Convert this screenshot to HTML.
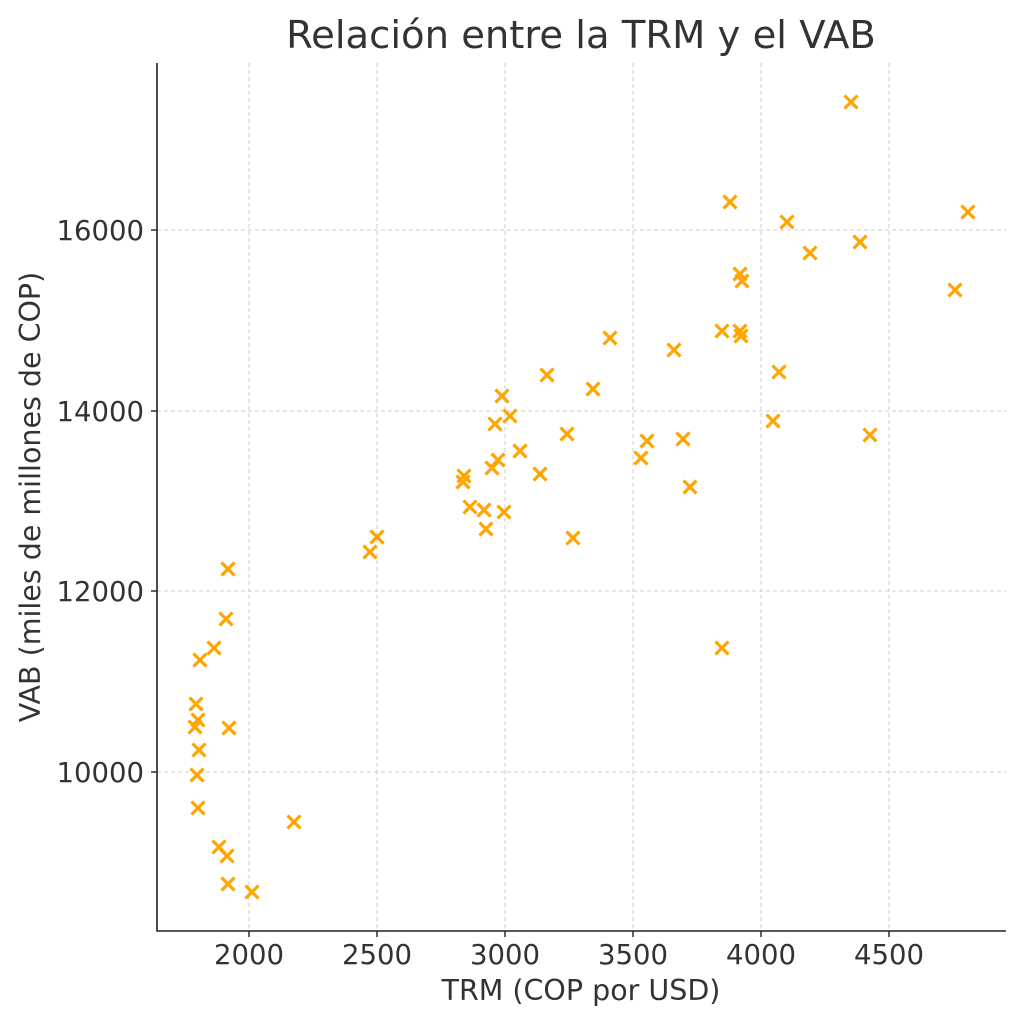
<!DOCTYPE html>
<html><head><meta charset="utf-8"><style>body{margin:0;background:#fff}svg{display:block}</style></head><body>
<svg width="1024" height="1024" xmlns="http://www.w3.org/2000/svg" font-family="DejaVu Sans, Liberation Sans, sans-serif">
<rect width="1024" height="1024" fill="#fff"/>
<defs><path id="m" d="M-6.5 -6.5L6.5 6.5M-6.5 6.5L6.5 -6.5" stroke="#FFA500" stroke-width="3.2" fill="none"/></defs>
<g stroke="#cccccc" stroke-dasharray="4,3" stroke-width="1">
<line x1="249" y1="63" x2="249" y2="931"/><line x1="377" y1="63" x2="377" y2="931"/><line x1="505" y1="63" x2="505" y2="931"/><line x1="633" y1="63" x2="633" y2="931"/><line x1="761" y1="63" x2="761" y2="931"/><line x1="889" y1="63" x2="889" y2="931"/>
<line x1="157" y1="230" x2="1006" y2="230"/><line x1="157" y1="411" x2="1006" y2="411"/><line x1="157" y1="591" x2="1006" y2="591"/><line x1="157" y1="772" x2="1006" y2="772"/>
</g>
<g>
<use href="#m" x="851" y="102"/><use href="#m" x="730" y="202"/><use href="#m" x="968" y="212"/><use href="#m" x="787" y="222"/><use href="#m" x="860" y="242"/><use href="#m" x="810" y="253"/><use href="#m" x="740" y="274"/><use href="#m" x="742" y="281"/><use href="#m" x="955" y="290"/><use href="#m" x="610" y="338"/><use href="#m" x="722" y="331"/><use href="#m" x="740" y="331"/><use href="#m" x="741" y="336"/><use href="#m" x="674" y="350"/><use href="#m" x="547" y="375"/><use href="#m" x="779" y="372"/><use href="#m" x="593" y="389"/><use href="#m" x="502" y="396"/><use href="#m" x="510" y="416"/><use href="#m" x="495" y="424"/><use href="#m" x="773" y="421"/><use href="#m" x="567" y="434"/><use href="#m" x="870" y="435"/><use href="#m" x="520" y="451"/><use href="#m" x="647" y="441"/><use href="#m" x="683" y="439"/><use href="#m" x="641" y="458"/><use href="#m" x="498" y="460"/><use href="#m" x="492" y="468"/><use href="#m" x="464" y="476"/><use href="#m" x="540" y="474"/><use href="#m" x="463" y="482"/><use href="#m" x="690" y="487"/><use href="#m" x="470" y="507"/><use href="#m" x="484" y="510"/><use href="#m" x="504" y="512"/><use href="#m" x="486" y="529"/><use href="#m" x="573" y="538"/><use href="#m" x="377" y="537"/><use href="#m" x="370" y="552"/><use href="#m" x="228" y="569"/><use href="#m" x="226" y="619"/><use href="#m" x="214" y="648"/><use href="#m" x="200" y="660"/><use href="#m" x="196" y="704"/><use href="#m" x="198" y="720"/><use href="#m" x="195" y="727"/><use href="#m" x="229" y="728"/><use href="#m" x="199" y="750"/><use href="#m" x="197" y="775"/><use href="#m" x="198" y="808"/><use href="#m" x="294" y="822"/><use href="#m" x="219" y="847"/><use href="#m" x="227" y="856"/><use href="#m" x="228" y="884"/><use href="#m" x="252" y="892"/><use href="#m" x="722" y="648"/>
</g>
<path d="M157 63 V931 H1006" stroke="#222" stroke-width="1.6" fill="none"/>
<g stroke="#222" stroke-width="1.4">
<line x1="249" y1="931" x2="249" y2="937"/><line x1="377" y1="931" x2="377" y2="937"/><line x1="505" y1="931" x2="505" y2="937"/><line x1="633" y1="931" x2="633" y2="937"/><line x1="761" y1="931" x2="761" y2="937"/><line x1="889" y1="931" x2="889" y2="937"/>
<line x1="151" y1="230" x2="157" y2="230"/><line x1="151" y1="411" x2="157" y2="411"/><line x1="151" y1="591" x2="157" y2="591"/><line x1="151" y1="772" x2="157" y2="772"/>
</g>
<g font-size="27.5" fill="#333" text-anchor="middle">
<text x="249" y="964">2000</text><text x="377" y="964">2500</text><text x="505" y="964">3000</text><text x="633" y="964">3500</text><text x="761" y="964">4000</text><text x="889" y="964">4500</text>
</g>
<g font-size="27.5" fill="#333" text-anchor="end">
<text x="144" y="240">16000</text><text x="144" y="421">14000</text><text x="144" y="601">12000</text><text x="144" y="782">10000</text>
</g>
<text x="581" y="1000" font-size="28.5" fill="#333" text-anchor="middle">TRM (COP por USD)</text>
<text transform="translate(40,497) rotate(-90)" font-size="28.5" fill="#333" text-anchor="middle">VAB (miles de millones de COP)</text>
<text x="581" y="48" font-size="38.5" fill="#333" text-anchor="middle">Relación entre la TRM y el VAB</text>
</svg>
</body></html>
